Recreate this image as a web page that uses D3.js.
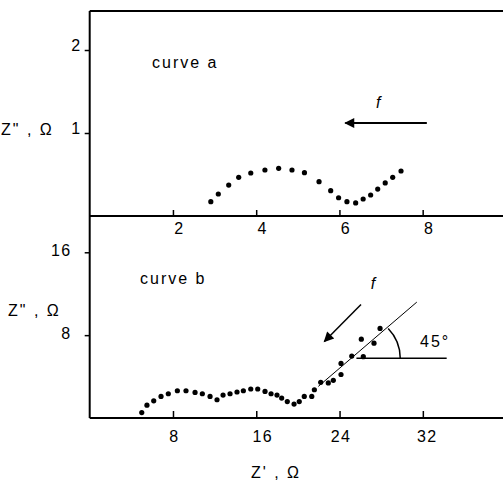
<!DOCTYPE html>
<html>
<head>
<meta charset="utf-8">
<script src="https://cdn.jsdelivr.net/npm/d3@7"></script>
<style>
  body { margin: 0; background: #fff; }
  svg { display: block; }
  text { font-family: "Liberation Sans", Arial, sans-serif; fill: #000; }
</style>
</head>
<body>
<div id="canvas"></div>
<script>
// curve a (top panel): Z' and Z'' in ohm
var curveAZre = [2.91, 3.09, 3.34, 3.58, 3.87, 4.21, 4.54, 4.86, 5.16, 5.51,
                 5.79, 5.98, 6.18, 6.39, 6.57, 6.75, 6.92, 7.10, 7.28, 7.48];
var curveAZim = [0.172, 0.265, 0.373, 0.466, 0.518, 0.554, 0.575, 0.554, 0.522, 0.413,
                 0.305, 0.220, 0.172, 0.157, 0.205, 0.253, 0.325, 0.398, 0.466, 0.542];

// curve b (bottom panel)
var curveBZre = [5.00, 5.50, 6.15, 6.85, 7.55, 8.42, 9.25, 10.12, 10.82, 11.56,
                 12.23, 12.81, 13.48, 14.15, 14.76, 15.47, 16.14, 16.84, 17.42, 17.99,
                 18.44, 18.98, 19.63, 20.13, 20.61, 21.33, 21.58, 22.19, 22.92, 23.40,
                 24.14, 24.14, 25.17, 26.28, 26.09, 27.31, 27.89];
var curveBZim = [0.52, 1.24, 1.66, 2.08, 2.34, 2.63, 2.63, 2.47, 2.34, 2.08,
                 1.76, 2.21, 2.34, 2.51, 2.63, 2.80, 2.80, 2.57, 2.34, 2.21,
                 1.92, 1.59, 1.34, 1.59, 2.08, 2.08, 2.73, 3.44, 3.39, 3.64,
                 4.20, 5.27, 5.98, 5.92, 7.61, 7.22, 8.65];

var topXTicks = [2, 4, 6, 8];
var topYTicks = [1, 2];
var botXTicks = [8, 16, 24, 32];
var botYTicks = [8, 16];

var width = 503, height = 480;
var left = 89.7;
var fontSize = 16;

var svg = d3.select(document.getElementById("canvas")).append("svg")
    .attr("width", width)
    .attr("height", height);

// scales
var xTop = d3.scaleLinear().domain([0, 9.93]).range([left, width]);
var yTop = d3.scaleLinear().domain([0, 2.47]).range([216, 11]);
var xBot = d3.scaleLinear().domain([0, 39.7]).range([left, width]);
var yBot = d3.scaleLinear().domain([0, 19.6]).range([418, 215]);

// frame lines (no right border in the original)
var frameLines = [
    [left, 11, width, 11],
    [left, yTop(0), width, yTop(0)],
    [left, yBot(0), width, yBot(0)],
    [left, 11, left, yBot(0)]
];
svg.selectAll("line.frame").data(frameLines).enter().append("line")
    .attr("class", "frame")
    .attr("x1", function(d) { return d[0]; })
    .attr("y1", function(d) { return d[1]; })
    .attr("x2", function(d) { return d[2]; })
    .attr("y2", function(d) { return d[3]; })
    .attr("stroke", "black")
    .attr("stroke-width", 2);

// axes
function styleAxis(g) {
    g.select(".domain").remove();
    g.selectAll("line").attr("stroke", "black").attr("stroke-width", 1.5);
    g.selectAll("text").attr("font-size", fontSize).attr("font-family", null)
        .style("letter-spacing", "1.5px");
}

svg.append("g")
    .attr("transform", "translate(0," + yTop(0) + ")")
    .call(d3.axisBottom(xTop).tickValues(topXTicks).tickFormat(d3.format("d"))
        .tickSize(-6).tickPadding(7))
    .call(styleAxis)
    .selectAll("text").attr("dx", 6);

svg.append("g")
    .attr("transform", "translate(0," + yBot(0) + ")")
    .call(d3.axisBottom(xBot).tickValues(botXTicks).tickFormat(d3.format("d"))
        .tickSize(-7).tickPadding(13))
    .call(styleAxis)
    .selectAll("text").attr("dx", function(d) { return d == 16 ? 6 : (d == 32 ? 4 : 1); });

svg.append("g")
    .attr("transform", "translate(" + left + ",0)")
    .call(d3.axisLeft(yTop).tickValues(topYTicks).tickFormat(d3.format("d"))
        .tickSize(5).tickPadding(3))
    .call(styleAxis)
    .selectAll("text").attr("dy", "0.05em");

svg.append("g")
    .attr("transform", "translate(" + left + ",0)")
    .call(d3.axisLeft(yBot).tickValues(botYTicks).tickFormat(d3.format("d"))
        .tickSize(5).tickPadding(13))
    .call(styleAxis)
    .selectAll("text").attr("dy", "0.2em");

// data points
svg.append("g").selectAll("circle")
    .data(d3.range(curveAZre.length)).enter().append("circle")
    .attr("cx", function(i) { return xTop(curveAZre[i]); })
    .attr("cy", function(i) { return yTop(curveAZim[i]); })
    .attr("r", 2.6)
    .attr("fill", "black");

svg.append("g").selectAll("circle")
    .data(d3.range(curveBZre.length)).enter().append("circle")
    .attr("cx", function(i) { return xBot(curveBZre[i]); })
    .attr("cy", function(i) { return yBot(curveBZim[i]); })
    .attr("r", 2.6)
    .attr("fill", "black");

// arrowhead markers
var defs = svg.append("defs");
defs.append("marker")
    .attr("id", "head")
    .attr("viewBox", "0 0 10 10")
    .attr("refX", 9).attr("refY", 5)
    .attr("markerWidth", 12).attr("markerHeight", 10)
    .attr("markerUnits", "userSpaceOnUse")
    .attr("orient", "auto")
  .append("path")
    .attr("d", "M0,0 L10,5 L0,10 z")
    .attr("fill", "black");

// frequency arrows
svg.append("line")
    .attr("x1", xTop(8.10)).attr("y1", yTop(1.12))
    .attr("x2", xTop(6.14)).attr("y2", yTop(1.12))
    .attr("stroke", "black").attr("stroke-width", 2)
    .attr("marker-end", "url(#head)");

svg.append("line")
    .attr("x1", xBot(26.06)).attr("y1", yBot(10.96))
    .attr("x2", xBot(22.54)).attr("y2", yBot(7.39))
    .attr("stroke", "black").attr("stroke-width", 1.5)
    .attr("marker-end", "url(#head)");

// 45 degree guide line, horizontal reference and angle arc
svg.append("line")
    .attr("x1", xBot(21.96)).attr("y1", yBot(3.05))
    .attr("x2", xBot(31.42)).attr("y2", yBot(11.19))
    .attr("stroke", "black").attr("stroke-width", 1);

svg.append("line")
    .attr("x1", xBot(25.62)).attr("y1", yBot(5.76))
    .attr("x2", xBot(34.29)).attr("y2", yBot(5.76))
    .attr("stroke", "black").attr("stroke-width", 1.5);

var arc = d3.arc()
    .innerRadius(43).outerRadius(43)
    .startAngle(Math.PI / 2 - 44 * Math.PI / 180)
    .endAngle(Math.PI / 2);
svg.append("path")
    .attr("transform", "translate(" + xBot(25.7) + "," + yBot(5.76) + ")")
    .attr("d", arc())
    .attr("fill", "none")
    .attr("stroke", "black")
    .attr("stroke-width", 1.5);

// labels
var labels = [
    { t: "curve a", x: 152, y: 68, a: "start" },
    { t: "curve b", x: 140, y: 284, a: "start" },
    { t: "Z\" , Ω", x: 1, y: 135, a: "start" },
    { t: "Z\" , Ω", x: 8, y: 316, a: "start" },
    { t: "Z' , Ω", x: 276, y: 478, a: "middle" },
    { t: "45°", x: 420, y: 347, a: "start" }
];
svg.append("g").selectAll("text")
    .data(labels).enter().append("text")
    .attr("x", function(d) { return d.x; })
    .attr("y", function(d) { return d.y; })
    .attr("text-anchor", function(d) { return d.a; })
    .attr("font-size", fontSize)
    .style("letter-spacing", "2px")
    .text(function(d) { return d.t; });

// italic f beside arrows
svg.append("text")
    .attr("x", xTop(6.88)).attr("y", yTop(1.30))
    .attr("font-size", 16).attr("font-style", "italic")
    .attr("font-family", "Liberation Serif, serif")
    .text("f");
svg.append("text")
    .attr("x", xBot(27.0)).attr("y", yBot(12.5))
    .attr("font-size", 16).attr("font-style", "italic")
    .attr("font-family", "Liberation Serif, serif")
    .text("f");
</script>
</body>
</html>
